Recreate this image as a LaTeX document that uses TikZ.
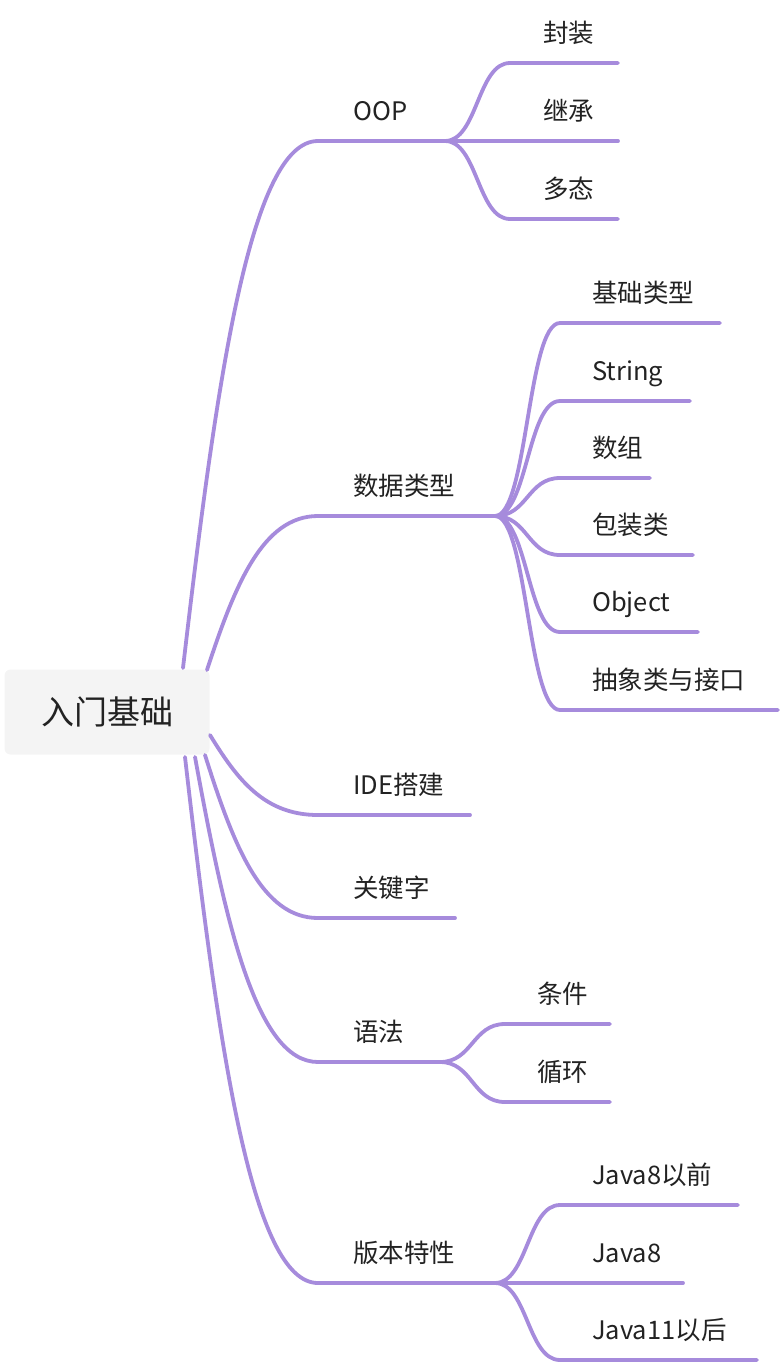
\documentclass[tikz,border=0pt]{standalone}
\usepackage{fontspec}
\usetikzlibrary{calc}
\setmainfont{Noto Sans CJK SC}
\definecolor{br}{HTML}{A68BDC}
\definecolor{rootbg}{HTML}{F4F4F4}
\definecolor{tx}{HTML}{222222}
\begin{document}
\begin{tikzpicture}[x=1pt,y=-1pt,
  edge/.style={draw=br,line width=3.8pt,line cap=round},
  lbl/.style={anchor=base west,inner sep=0pt,text=tx,font=\fontsize{25.5}{28}\selectfont}]
\useasboundingbox (0,0) rectangle (780,1368);
\node[fill=rootbg,rounded corners=6pt,minimum width=205pt,minimum height=85pt,inner sep=0pt,text=tx,font=\fontsize{33}{38}\selectfont] (root) at (107,712) {入门基础};
% level 1
\foreach \n/\y/\e/\t in {oop/141/445/OOP,dt/516/495/数据类型,ide/815/470/IDE搭建,kw/918/455/关键字,yf/1062/440/语法,bb/1283/495/版本特性}{
  \coordinate (\n s) at (318,\y);
  \coordinate (\n e) at (\e,\y);
  \draw[edge] (\n s) -- (\n e);
  \node[lbl] (\n l) at (353,\y-21) {\t};
}
\coordinate (r1) at (183,668);
\coordinate (r2) at (207,670);
\coordinate (r3) at (210,735);
\coordinate (r4) at (205,755);
\coordinate (r5) at (195,757);
\coordinate (r6) at (185,757);
\foreach \a/\b in {r1/oops,r2/dts,r3/ides,r4/kws,r5/yfs,r6/bbs}{
  \draw[edge] let \p1=(\a),\p2=(\b) in (\p1) .. controls ({0.75*\x1+0.25*\x2},{0.45*\y1+0.55*\y2}) and ({0.5*\x1+0.5*\x2},\y2) .. (\p2);
}
% children
\foreach \q/\sx/\lx/\y/\e/\t/\k in {
  oop/510/543/63/618/封装/a, oop/510/543/141/618/继承/b, oop/510/543/219/618/多态/c,
  dt/560/592/323/720/基础类型/a, dt/560/592/401/690/String/b, dt/560/592/478/650/数组/c,
  dt/560/592/555/693/包装类/d, dt/560/592/632/698/Object/e, dt/560/592/710/778/抽象类与接口/f,
  yf/505/537/1024/610/条件/a, yf/505/537/1102/610/循环/b,
  bb/560/592/1205/738/Java8以前/a, bb/560/592/1283/683/Java8/b, bb/560/592/1360/757/Java11以后/c}{
  \coordinate (\q\k s) at (\sx,\y);
  \coordinate (\q\k e) at (\e,\y);
  \draw[edge] let \p1=(\q e),\p2=(\q\k s) in (\p1) .. controls ({0.5*\x1+0.5*\x2},\y1) and ({0.5*\x1+0.5*\x2},\y2) .. (\p2) -- (\q\k e);
  \node[lbl] (\q\k l) at (\lx,\y-21) {\t};
}
\end{tikzpicture}
\end{document}
